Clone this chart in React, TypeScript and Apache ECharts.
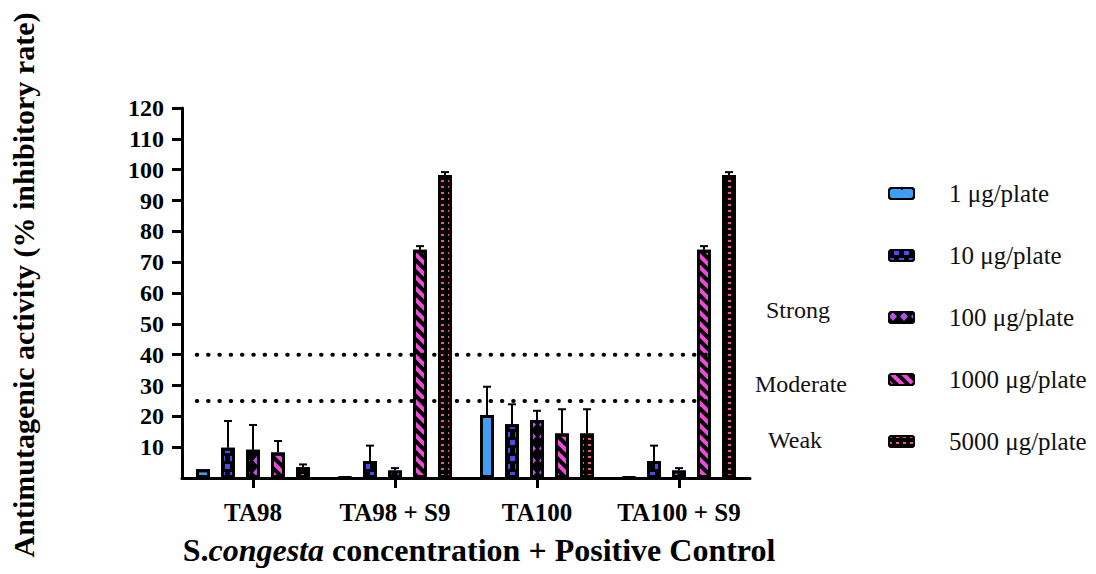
import React, { useEffect, useRef } from "react";
import * as echarts from "echarts";

const categories = ["TA98", "TA98 + S9", "TA100", "TA100 + S9"];
const seriesNames = ["1 μg/plate", "10 μg/plate", "100 μg/plate", "1000 μg/plate", "5000 μg/plate"];
const mean1 = [2.8, 0.4, 20.4, 0.4];
const sd1 = [0, 0, 9.2, 0];
const mean10 = [9.8, 5.5, 17.4, 5.5];
const sd10 = [8.7, 5.0, 6.5, 5.0];
const mean100 = [9.2, 2.4, 18.8, 2.4];
const sd100 = [8.0, 0.8, 3.0, 0.8];
const mean1000 = [8.3, 74.0, 14.4, 74.0];
const sd1000 = [3.7, 1.2, 7.9, 1.2];
const mean5000 = [3.5, 98.3, 14.4, 98.3];
const sd5000 = [0.9, 0.9, 7.9, 0.9];
const yTicks = { min: 0, max: 120, interval: 10 };
const thresholds = [40, 25];
const thresholdSpan = [0.026, 0.935];
const zoneLabels = ["Strong", "Moderate", "Weak"];

const means = [mean1, mean10, mean100, mean1000, mean5000];
const sds = [sd1, sd10, sd100, sd1000, sd5000];

const SERIF = "'Liberation Serif', 'Times New Roman', serif";
const BAR_W = 14;
const GAP = 11 / 14;

const baseColors = ["#3f9ef3", "#000000", "#000000", "#f04ad8", "#000000"];
const decals: any[] = [
  { symbol: "circle", color: "#000", symbolSize: 1, dashArrayX: [[2, 10]], dashArrayY: [2, 12] },
  { symbol: "rect", color: "#4b4bf2", symbolSize: 1, dashArrayX: [[5, 5], [0, 5, 5, 0]], dashArrayY: [5, 3] },
  { symbol: "diamond", color: "#b452e6", symbolSize: 1, dashArrayX: [[8, 3]], dashArrayY: [9, 3] },
  { symbol: "rect", color: "#000", symbolSize: 1, dashArrayX: [[1, 0]], dashArrayY: [4, 4], rotation: Math.PI / 4 },
  { symbol: "rect", color: "#f0577a", symbolSize: 1, dashArrayX: [[3, 4]], dashArrayY: [2, 4] },
];

export default function App() {
  const ref = useRef<HTMLDivElement>(null);
  useEffect(() => {
    const chart = echarts.init(ref.current!, null, { renderer: "svg" });
    const barSeries = seriesNames.map((name, k) => ({
      name,
      type: "bar",
      xAxisIndex: 0,
      yAxisIndex: 0,
      barWidth: BAR_W,
      barGap: `${GAP * 100}%`,
      data: means[k],
      itemStyle: { color: baseColors[k], borderColor: "#000", borderWidth: 3, decal: decals[k] },
      z: 2,
    }));
    const errSeries = seriesNames.map((name, k) => ({
      name: "err" + k,
      type: "custom",
      xAxisIndex: 0,
      yAxisIndex: 0,
      z: 5,
      data: categories.map((c, i) => [i, means[k][i], sds[k][i]]),
      renderItem: (params: any, api: any) => {
        const ci = api.value(0);
        const m = api.value(1);
        const s = api.value(2);
        if (!s) return null;
        const base = api.coord([ci, m]);
        const top = api.coord([ci, m + s]);
        const x = base[0] + (k - 2) * BAR_W * (1 + GAP);
        return {
          type: "group",
          children: [
            { type: "line", shape: { x1: x, y1: base[1], x2: x, y2: top[1] }, style: { stroke: "#000", lineWidth: 2 } },
            { type: "line", shape: { x1: x - 4, y1: top[1], x2: x + 4, y2: top[1] }, style: { stroke: "#000", lineWidth: 2 } },
          ],
        };
      },
    }));
    const refSeries = thresholds.map((t, i) => ({
      name: "ref" + i,
      type: "line",
      xAxisIndex: 1,
      yAxisIndex: 0,
      symbol: "none",
      silent: true,
      z: 3,
      data: [[thresholdSpan[0], t], [thresholdSpan[1], t]],
      lineStyle: { color: "#000", width: 4, type: [0.5, 10.8], cap: "round" },
    }));
    chart.setOption({
      animation: false,
      grid: { left: 180, right: 346, top: 108, bottom: 96, containLabel: false },
      legend: {
        data: seriesNames,
        orient: "vertical",
        left: 888,
        top: 181,
        padding: 0,
        itemWidth: 25,
        itemHeight: 11,
        itemGap: 37,
        textStyle: { fontFamily: SERIF, fontSize: 25, color: "#111", padding: [0, 0, 0, 30] },
      },
      xAxis: [
        {
          type: "category",
          data: categories,
          axisLine: { lineStyle: { color: "#000", width: 3 } },
          axisTick: { show: true, alignWithLabel: true, length: 10, lineStyle: { width: 3, color: "#000" } },
          axisLabel: { interval: 0, fontFamily: SERIF, fontSize: 25, fontWeight: "bold", color: "#000", margin: 22 },
          name: "{a|S.}{b|congesta}{a| concentration + Positive Control}",
          nameLocation: "middle",
          nameGap: 56,
          nameTextStyle: {
            padding: [0, 0, 0, 26],
            rich: {
              a: { fontFamily: SERIF, fontSize: 32, fontWeight: "bold", color: "#000" },
              b: { fontFamily: SERIF, fontSize: 32, fontWeight: "bold", fontStyle: "italic", color: "#000" },
            },
          },
        },
        { type: "value", min: 0, max: 1, show: false },
      ],
      yAxis: {
        type: "value",
        min: yTicks.min,
        max: yTicks.max,
        interval: yTicks.interval,
        splitLine: { show: false },
        axisLine: { show: true, lineStyle: { color: "#000", width: 3 } },
        axisTick: { show: true, length: 10, lineStyle: { width: 3, color: "#000" } },
        axisLabel: { fontFamily: SERIF, fontSize: 24, fontWeight: "bold", color: "#000", margin: 18, showMinLabel: false },
        name: "Antimutagenic activity (% inhibitory rate)",
        nameLocation: "middle",
        nameGap: 144,
        nameTextStyle: { fontFamily: SERIF, fontSize: 30, fontWeight: "bold", color: "#000", padding: [0, 0, 0, 16] },
      },
      graphic: [
        { type: "text", left: 766, top: 298, style: { text: zoneLabels[0], font: `24px ${SERIF}`, fill: "#111" } },
        { type: "text", left: 755, top: 372, style: { text: zoneLabels[1], font: `24px ${SERIF}`, fill: "#111" } },
        { type: "text", left: 768, top: 428, style: { text: zoneLabels[2], font: `24px ${SERIF}`, fill: "#111" } },
      ],
      series: [...barSeries, ...errSeries, ...refSeries],
    });
    return () => chart.dispose();
  }, []);
  return <div ref={ref} style={{ position: "absolute", left: 0, top: 0, width: 1096, height: 574 }} />;
}
